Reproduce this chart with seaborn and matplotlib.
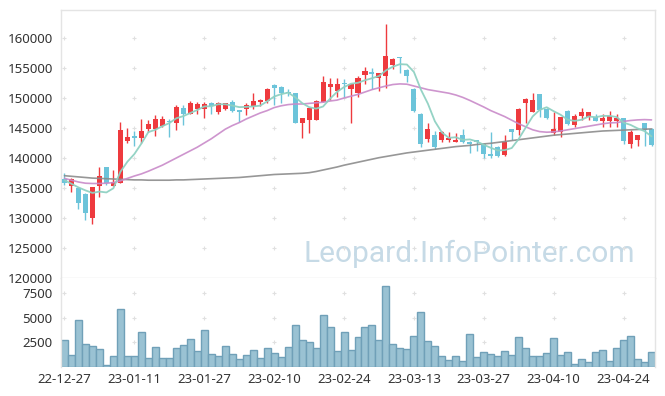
import numpy as np
import pandas as pd
import matplotlib
matplotlib.use("Agg")
import matplotlib.pyplot as plt
import seaborn as sns

# ---------------- data ----------------
open_ = [136500, 135300, 135000, 134000, 130000, 135400, 138500, 135400, 135900, 142900,
         143500, 143400, 144900, 144900, 145400, 146100, 145900, 148400, 147400, 148100,
         148100, 149100, 147700, 148200, 149300, 147800, 148100, 148700, 149300, 149500,
         152200, 151800, 151000, 150800, 145900, 146300, 146400, 149400, 151800, 151200,
         152400, 151500, 150900, 153800, 154300, 153400, 153600, 155500, 156700, 154700,
         151500, 147400, 143200, 143800, 143000, 143000, 142700, 143800, 142700, 142800,
         142300, 140600, 141800, 140500, 144800, 144700, 149200, 147700, 150700, 148200,
         144200, 144400, 147800, 145500, 147000, 146900, 146800, 146200, 146100, 146100,
         146600, 142400, 143000, 145800, 144900]
high = [137500, 136700, 135200, 134100, 135100, 138500, 138500, 138000, 146000, 145000,
        144500, 146500, 146300, 147200, 147000, 146500, 148900, 148900, 149500, 149400,
        149300, 149300, 149400, 149200, 149600, 147900, 149200, 150800, 149900, 151700,
        152300, 152000, 151500, 150800, 146600, 148400, 149600, 153700, 153400, 153300,
        153200, 152400, 153600, 155100, 155000, 154200, 162300, 156600, 156900, 154800,
        151600, 147500, 145800, 144500, 144500, 144300, 144100, 144900, 142800, 142900,
        142400, 144300, 142000, 143900, 144900, 148300, 150000, 150800, 150700, 148300,
        147700, 146900, 148000, 147300, 148400, 147700, 147300, 147300, 147800, 147400,
        146700, 144600, 143900, 145900, 145000]
low = [135500, 134400, 131500, 129600, 129000, 133500, 135500, 135300, 135900, 142500,
       142000, 142500, 144400, 143600, 145200, 143500, 144700, 145500, 147300, 147300,
       146600, 147300, 147400, 148000, 147700, 146000, 147200, 148100, 148700, 149100,
       148800, 149200, 150400, 145900, 143400, 144200, 146300, 149300, 149700, 150200,
       150200, 145800, 150200, 152300, 151500, 151200, 151600, 154900, 154100, 152700,
       147700, 141900, 142700, 141500, 142700, 142700, 142700, 142500, 140800, 141100,
       140000, 140000, 140200, 140300, 143000, 143900, 145900, 147600, 146900, 146500,
       143800, 143500, 145500, 145100, 146400, 146400, 146100, 145100, 145200, 145100,
       142400, 141600, 142000, 142000, 142000]
close = [135900, 136500, 132500, 130900, 135100, 137000, 135800, 136000, 144600, 143500,
         143400, 144500, 145600, 146500, 146500, 146000, 148500, 147400, 149100, 149000,
         149000, 148600, 149100, 149100, 147900, 147700, 148800, 149500, 149700, 151500,
         151700, 150800, 150800, 145900, 146600, 148300, 149500, 152600, 152400, 152300,
         152300, 152300, 153400, 154500, 154000, 154100, 157000, 156500, 156600, 153700,
         147900, 142300, 144800, 141900, 144400, 143400, 142800, 142600, 142300, 142700,
         140600, 140300, 140400, 142600, 144400, 148200, 149800, 149700, 148000, 146600,
         144900, 146800, 145600, 147000, 147600, 147600, 146200, 146700, 147000, 146700,
         142900, 144300, 143800, 144700, 142100]
volume = [2750, 1260, 4840, 2320, 2180, 1880, 240, 1160, 5860, 1160,
          1160, 3610, 960, 2080, 960, 960, 1980, 2290, 2900, 1670,
          3720, 1360, 1160, 2180, 1360, 850, 1260, 1770, 960, 1980,
          1470, 1060, 2080, 4330, 2800, 2590, 1980, 5270, 4110, 1590,
          3550, 1770, 3100, 4090, 4230, 2800, 8250, 2390, 1980, 1880,
          3200, 5560, 2690, 2180, 1160, 750, 1160, 650, 3410, 1060,
          1570, 1360, 1160, 1670, 1260, 3100, 1980, 1160, 1160, 1470,
          3000, 1260, 1570, 340, 850, 550, 1570, 1770, 650, 1980,
          2800, 3200, 850, 550, 1570]
ma5 = [136300, 135700, 135100, 134600, 134180, 134400, 134260, 134960, 137700, 139380,
       140660, 142400, 144320, 144700, 145300, 145820, 146620, 146980, 147500, 148000,
       148600, 148620, 148960, 148960, 148740, 148480, 148520, 148600, 148720, 149440,
       150240, 150640, 150900, 150140, 149160, 148480, 148220, 148580, 149880, 151020,
       151820, 152380, 152540, 152960, 153300, 153660, 154600, 155220, 155640, 155580,
       154340, 151400, 149060, 146120, 144260, 143360, 143460, 143020, 143100, 142760,
       142200, 141700, 141260, 141320, 141660, 143180, 145080, 146940, 148020, 148460,
       147800, 147200, 146380, 146180, 146380, 146920, 146800, 147020, 147020, 146840,
       145900, 145520, 144940, 144480, 143600]
ma20 = [136600, 136300, 136000, 135800, 135750, 135750, 135800, 135900, 136200, 136600,
        137000, 137350, 137800, 138300, 138800, 139400, 140000, 140600, 141200, 141800,
        142500, 143200, 144000, 144800, 145400, 145900, 146500, 147000, 147500, 147900,
        148400, 148700, 148900, 149000, 149000, 149100, 149200, 149300, 149500, 149650,
        150000, 150300, 150600, 151000, 151400, 151700, 152000, 152250, 152350, 152300,
        152000, 151700, 151400, 151200, 151000, 150800, 150500, 150100, 149600, 149050,
        148500, 147900, 147400, 146900, 146300, 145700, 145200, 144700, 144400, 144300,
        144350, 144500, 144700, 144900, 145100, 145300, 145500, 145700, 145850, 145900,
        146100, 146250, 146350, 146400, 146350]
ma60 = [137050, 136950, 136850, 136750, 136650, 136600, 136550, 136500, 136450, 136400,
        136350, 136350, 136300, 136300, 136300, 136300, 136350, 136350, 136400, 136450,
        136500, 136550, 136600, 136650, 136700, 136750, 136850, 136950, 137050, 137150,
        137250, 137300, 137350, 137400, 137450, 137550, 137750, 138000, 138250, 138500,
        138800, 139050, 139300, 139550, 139800, 140050, 140250, 140450, 140650, 140850,
        141000, 141150, 141300, 141450, 141600, 141750, 141900, 142000, 142100, 142250,
        142350, 142450, 142600, 142750, 142900, 143050, 143200, 143350, 143500, 143650,
        143800, 143900, 144000, 144100, 144200, 144300, 144400, 144500, 144550, 144600,
        144650, 144700, 144750, 144800, 144850]
krx_holidays = ["2022-12-30", "2023-01-23", "2023-01-24", "2023-03-01"]
tick_labels = ["22-12-27", "23-01-11", "23-01-27", "23-02-10", "23-02-24",
               "23-03-13", "23-03-27", "23-04-10", "23-04-24"]
price_ticks = [120000, 125000, 130000, 135000, 140000, 145000, 150000, 155000, 160000]
volume_ticks = [2500, 5000, 7500]
watermark = "Leopard.InfoPointer.com"

# ---------------- styling ----------------
UP = "#ee3a3e"
DOWN = "#6cc4da"
C_MA5 = "#8fd1c2"
C_MA20 = "#c98ac9"
C_MA60 = "#8c8c8c"
VOL_FILL = "#9ac2d3"
VOL_EDGE = "#70a0b8"
FRAME = "#e4e4e4"
GRIDMARK = "#e0e0e0"

sns.set_theme(style="white")
plt.rcParams["font.family"] = ["Noto Sans", "DejaVu Sans"]

dates = pd.bdate_range("2022-12-27", periods=len(close), freq="C", holidays=krx_holidays)
df = pd.DataFrame({"date": dates.strftime("%y-%m-%d"), "open": open_, "high": high,
                   "low": low, "close": close, "volume": volume,
                   "ma5": ma5, "ma20": ma20, "ma60": ma60})
df["pos"] = np.arange(len(df))
df["up"] = df["close"] >= df["open"]
colors = np.where(df["up"], UP, DOWN)

tick_pos = [int(df.index[df["date"] == t][0]) for t in tick_labels]

fig = plt.figure(figsize=(6.65, 3.96), dpi=100)
W, H = 665, 396
L, R = 61, 655
ax = fig.add_axes([L / W, (H - 278) / H, (R - L) / W, 268 / H])
axv = fig.add_axes([L / W, (H - 367) / H, (R - L) / W, 89 / H], sharex=ax)

# ---- price panel ----
ax.vlines(df["pos"], df["low"], df["high"], colors=colors, linewidth=1.0, zorder=2)
body_bottom = np.minimum(df["open"], df["close"])
body_h = np.maximum(np.abs(df["close"] - df["open"]), 220)
ax.bar(df["pos"], body_h, bottom=body_bottom, width=0.72, color=colors,
       linewidth=0, zorder=3)

sns.lineplot(data=df, x="pos", y="ma60", ax=ax, color=C_MA60, linewidth=1.2,
             alpha=0.9, zorder=4)
sns.lineplot(data=df, x="pos", y="ma20", ax=ax, color=C_MA20, linewidth=1.2,
             alpha=0.9, zorder=4)
sns.lineplot(data=df, x="pos", y="ma5", ax=ax, color=C_MA5, linewidth=1.3,
             alpha=0.95, zorder=5)

ax.set_xlim(-0.5, len(df) - 0.5)
ax.set_ylim(120000, 164667)
ax.set_yticks(price_ticks)
ax.set_yticklabels([str(t) for t in price_ticks])
ax.tick_params(axis="y", length=0, pad=6, labelsize=9.5, labelcolor="#333333")
ax.tick_params(axis="x", length=0, labelbottom=False)
ax.set_xlabel("")
ax.set_ylabel("")
for s in ax.spines.values():
    s.set_color(FRAME)
    s.set_linewidth(1.0)

gx, gy = np.meshgrid(tick_pos, price_ticks[1:])
ax.scatter(gx.ravel(), gy.ravel(), marker="+", s=10, color=GRIDMARK,
           linewidths=0.8, zorder=1)

ax.text(0.966, 0.0586, watermark, transform=ax.transAxes, ha="right",
        va="baseline", fontsize=21.5, color="#c6dae6", zorder=0,
        family=["Roboto", "DejaVu Sans"])

# ---- volume panel ----
sns.barplot(data=df, x="pos", y="volume", ax=axv, native_scale=True, width=1.0,
            color=VOL_FILL, edgecolor=VOL_EDGE, linewidth=1.0, errorbar=None,
            saturation=1, zorder=2)
axv.set_ylim(0, 9070)
axv.set_yticks(volume_ticks)
axv.set_yticklabels([str(t) for t in volume_ticks])
axv.set_xticks(tick_pos)
axv.set_xticklabels(tick_labels)
axv.set_xlim(-0.5, len(df) - 0.5)
axv.tick_params(axis="y", length=0, pad=6, labelsize=9.5, labelcolor="#333333")
axv.tick_params(axis="x", length=0, pad=4, labelsize=9.5, labelcolor="#333333")
axv.set_xlabel("")
axv.set_ylabel("")
for name, s in axv.spines.items():
    s.set_color(FRAME)
    s.set_linewidth(1.0)
axv.spines["bottom"].set_visible(False)
axv.spines["top"].set_visible(False)

vx, vy = np.meshgrid(tick_pos, volume_ticks)
axv.scatter(vx.ravel(), vy.ravel(), marker="+", s=10, color=GRIDMARK,
            linewidths=0.8, zorder=1)

fig.savefig("out.png", dpi=100)
